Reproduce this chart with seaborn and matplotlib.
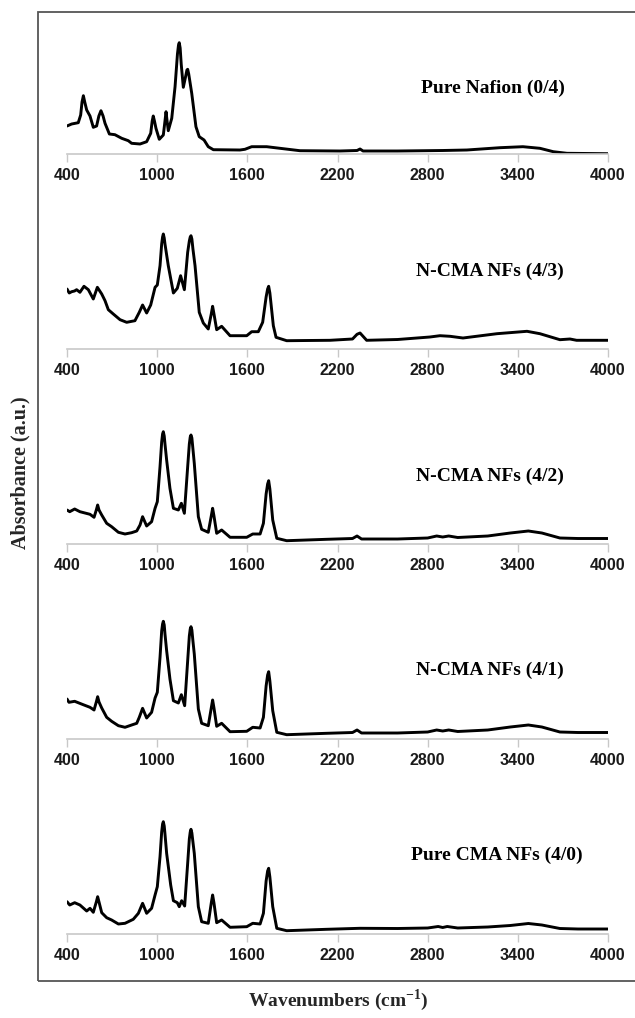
import matplotlib
matplotlib.use("Agg")
import matplotlib.pyplot as plt
import seaborn as sns
import pandas as pd
from matplotlib.patches import Rectangle

# ---------------- data (wavenumber, absorbance in a.u.) ----------------
nafion_wn = [400, 431, 475, 491, 500, 509, 518, 531, 553, 575, 597, 612, 626, 640, 653, 682, 719,
             764, 808, 830, 886, 930, 957, 967, 974, 982, 992, 1014, 1041, 1052, 1059, 1066, 1074,
             1097, 1119, 1135, 1142, 1147, 1153, 1160, 1174, 1190, 1198, 1203, 1210, 1230, 1258,
             1280, 1312, 1340, 1374, 1551, 1584, 1629, 1729, 1839, 1950, 2216, 2330, 2350, 2370,
             2600, 2900, 3061, 3281, 3434, 3547, 3636, 3727, 4000]
nafion_abs = [28, 30, 31.3, 39, 52, 58.3, 52, 44, 38, 26.7, 28, 38, 43.3, 38, 30.7, 20, 19.3,
              15.7, 13.3, 10.7, 10, 12.3, 20.7, 33, 38, 33, 25.7, 14.7, 19, 33, 42.3, 33, 23.3,
              35.7, 67.3, 100, 109, 111.3, 106, 90, 66.7, 78, 84, 84.7, 80, 60.7, 27.3,
              17.3, 14, 7.3, 4.3, 4, 4.7, 7.3, 7.3, 5.3, 3.3, 3, 3.5, 5, 3,
              3, 3.5, 4, 6.3, 7.3, 5.7, 2.3, 0.7, 0.3]

ncma43_wn = [400, 415, 431, 450, 464, 486, 513, 542, 575, 602, 631, 653, 675, 708, 753, 797,
             852, 881, 903, 930, 957, 986, 1001, 1019, 1030, 1036, 1041, 1047, 1052, 1074, 1108,
             1134, 1156, 1181, 1203, 1214, 1220, 1225, 1231, 1238, 1252, 1280, 1307, 1340, 1360,
             1369, 1378, 1396, 1429, 1485, 1596, 1629, 1673, 1702, 1725, 1735, 1742, 1750, 1773,
             1791, 1862, 2000, 2150, 2300, 2330, 2350, 2394, 2600, 2815, 2882, 2949, 3035, 3261,
             3461, 3547, 3680, 3747, 3791, 4000]
ncma43_abs = [60, 56, 57.3, 58, 59.3, 56.7, 62.7, 59.3, 50, 61.7, 55, 48.3, 39.3, 35, 29.3, 26.7,
              28.3, 36.7, 44, 36, 44, 61.7, 64, 83.3, 105, 112, 115, 111, 105, 83.3, 56,
              60.7, 73.3, 59.3, 96.7, 108, 112, 113.3, 110, 100, 83.3, 36.7, 26, 20, 35,
              42.7, 35, 19.3, 22.7, 13.3, 13.3, 17.3, 17.3, 26.7, 52, 60, 62.7, 56, 23.3,
              11.7, 8.3, 8.5, 8.7, 10, 14.7, 16, 8.7, 9.5, 12, 13.3, 12.7, 11, 15.3,
              17.7, 15.3, 9.3, 10, 8.7, 8.7]

ncma42_wn = [400, 418, 451, 486, 553, 580, 595, 604, 613, 631, 664, 697, 742, 786, 830, 864, 886,
             903, 930, 963, 986, 1001, 1019, 1030, 1036, 1041, 1047, 1052, 1063, 1085, 1108, 1141,
             1161, 1181, 1203, 1214, 1220, 1225, 1231, 1238, 1247, 1274, 1296, 1340, 1360, 1369,
             1378, 1396, 1429, 1485, 1596, 1636, 1685, 1707, 1725, 1735, 1742, 1750, 1769, 1796,
             1862, 2128, 2300, 2330, 2360, 2600, 2800, 2860, 2900, 2940, 3000, 3200, 3350, 3470,
             3560, 3680, 3800, 4000]
ncma42_abs = [34, 32.3, 35, 32.3, 29.7, 26.7, 34, 39, 34, 29, 20.7, 17.3, 11.7, 10, 11.3, 13, 19,
              27.3, 18, 22.3, 35.7, 42.3, 77.3, 102, 110, 112.3, 108, 100, 84, 55.7, 35.7, 34,
              40.7, 30.7, 77.3, 100, 107, 109, 106, 95, 80.7, 27.3, 14.7, 11.7, 28, 35.7,
              28, 10.7, 14, 6.7, 6.7, 10, 10, 20.7, 50, 60, 63.3, 55, 24, 5.7,
              3.3, 4.7, 5.5, 8, 5, 5, 6, 8, 7, 8, 6.5, 8, 11, 13,
              11, 6, 5.5, 5.5]

ncma41_wn = [400, 413, 451, 508, 553, 580, 595, 604, 613, 631, 664, 697, 742, 786, 836, 864, 881,
             903, 930, 963, 986, 1001, 1019, 1030, 1036, 1041, 1047, 1052, 1063, 1085, 1108, 1141,
             1161, 1183, 1203, 1214, 1220, 1225, 1231, 1238, 1247, 1274, 1296, 1340, 1360, 1369,
             1378, 1396, 1429, 1485, 1596, 1636, 1685, 1707, 1725, 1735, 1742, 1750, 1769, 1796,
             1862, 2128, 2300, 2330, 2360, 2600, 2800, 2860, 2900, 2940, 3000, 3200, 3350, 3470,
             3560, 3680, 3800, 4000]
ncma41_abs = [40, 36.7, 37.7, 34.3, 31.7, 29, 37, 42.3, 37, 31, 21.7, 17.7, 13.3, 11.7, 14.3, 15.7, 21.7,
              30.7, 21, 26.7, 41, 46.7, 81.7, 108, 115, 117.7, 114, 105, 88.3, 60, 38.3, 36,
              44.3, 33.3, 78.3, 103, 110, 112.3, 109, 98, 85, 30, 15.7, 13.3, 31, 39,
              31, 12.7, 15.7, 7.3, 7.7, 11.7, 11, 21.7, 53, 64, 67.3, 58, 28.3, 6.7,
              4.3, 5.7, 6.5, 9, 6, 6, 7, 9, 8, 9, 7.5, 9, 12, 14,
              12, 7, 6.5, 6.5]

cma40_wn = [400, 418, 451, 486, 531, 553, 575, 595, 604, 613, 631, 664, 697, 742, 786, 841, 875,
            903, 930, 963, 986, 1001, 1019, 1030, 1036, 1041, 1047, 1052, 1063, 1090, 1108, 1134,
            1147, 1163, 1183, 1203, 1214, 1220, 1225, 1231, 1238, 1247, 1274, 1296, 1340, 1360,
            1369, 1378, 1396, 1429, 1485, 1596, 1636, 1685, 1707, 1725, 1735, 1742, 1750, 1769,
            1796, 1862, 2128, 2349, 2600, 2800, 2870, 2900, 2930, 3000, 3200, 3350, 3470, 3560,
            3680, 3800, 4000]
cma40_abs = [32.3, 29, 31.3, 29, 23, 25.7, 21.7, 32, 37.3, 32, 21.3, 16.3, 14, 10, 10.7, 14.7, 20.7,
             30.7, 20.7, 25.7, 39, 47.3, 77.3, 102, 110, 112.3, 108, 100, 80.7, 49, 33.3, 31.3,
             27.3, 33.3, 28, 70.7, 95, 102, 104.7, 101, 92, 80.7, 27.3, 12.3, 10.7, 31,
             39, 31, 11.3, 14, 6.7, 7.3, 10.7, 10, 20.7, 53, 63, 65.7, 57, 27.3,
             5.7, 3.3, 4.7, 5.7, 5.5, 6, 7.5, 6.5, 7.5, 6, 7, 8.5, 10.5, 9,
             5.5, 5, 5]

panel_labels = ["Pure Nafion (0/4)", "N-CMA NFs (4/3)", "N-CMA NFs (4/2)",
                "N-CMA NFs (4/1)", "Pure CMA NFs (4/0)"]
tick_values = [400, 1000, 1600, 2200, 2800, 3400, 4000]
tick_labels = ["400", "1000", "1600", "2200", "2800", "3400", "4000"]

series = [(nafion_wn, nafion_abs), (ncma43_wn, ncma43_abs), (ncma42_wn, ncma42_abs),
          (ncma41_wn, ncma41_abs), (cma40_wn, cma40_abs)]

# ---------------- style ----------------
sns.set_style("white")
plt.rcParams['font.family'] = ['Liberation Serif', 'DejaVu Serif']
plt.rcParams['mathtext.fontset'] = 'custom'
plt.rcParams['mathtext.rm'] = 'Liberation Serif'
plt.rcParams['mathtext.bf'] = 'Liberation Serif:bold'

W, H = 635, 1018
fig = plt.figure(figsize=(W / 100, H / 100), dpi=100)

# outer frame
fig.patches.append(Rectangle((38 / W, 1 - 981 / H), 700 / W, (981 - 12) / H,
                             transform=fig.transFigure, fill=False,
                             edgecolor='#555555', linewidth=1.3))

axis_y = [154, 349, 544, 739, 934]
label_y = [88, 271, 476, 670, 855]
label_x = [493, 490, 490, 490, 497]
ax_h = 140

for i, ((wn, ab), lab) in enumerate(zip(series, panel_labels)):
    ax = fig.add_axes([67 / W, 1 - axis_y[i] / H, 541 / W, ax_h / H])
    df = pd.DataFrame({"wn": wn, "abs": ab})
    sns.lineplot(data=df, x="wn", y="abs", ax=ax, color='black', linewidth=2.1,
                 sort=False, estimator=None)
    ax.set_xlim(400, 4000)
    ax.set_ylim(0, ax_h)
    ax.set_xlabel("")
    ax.set_ylabel("")
    ax.set_yticks([])
    ax.set_xticks(tick_values)
    ax.set_xticklabels(tick_labels, family=['Liberation Sans Narrow', 'Liberation Sans'],
                       fontweight='bold', fontsize=11.5, color='#1a1a1a')
    ax.tick_params(axis='x', direction='out', length=6, width=1, color='#c8c8c8', pad=4,
                   bottom=True)
    for s in ['top', 'right', 'left']:
        ax.spines[s].set_visible(False)
    ax.spines['bottom'].set_color('#c8c8c8')
    ax.spines['bottom'].set_linewidth(1.2)
    ax.patch.set_alpha(0)
    fig.text(label_x[i] / W, 1 - label_y[i] / H, lab, ha='center', va='center',
             fontsize=14, fontweight='bold', color='black')

fig.text(20 / W, 1 - 473 / H, "Absorbance (a.u.)", rotation=90, ha='center', va='center',
         fontsize=14.5, fontweight='bold')
fig.text(338 / W, 1 - 1000 / H, r"Wavenumbers (cm$^{\mathbf{-1}}$)", ha='center', va='center',
         fontsize=14, fontweight='bold')

fig.savefig("out.png", dpi=100)
